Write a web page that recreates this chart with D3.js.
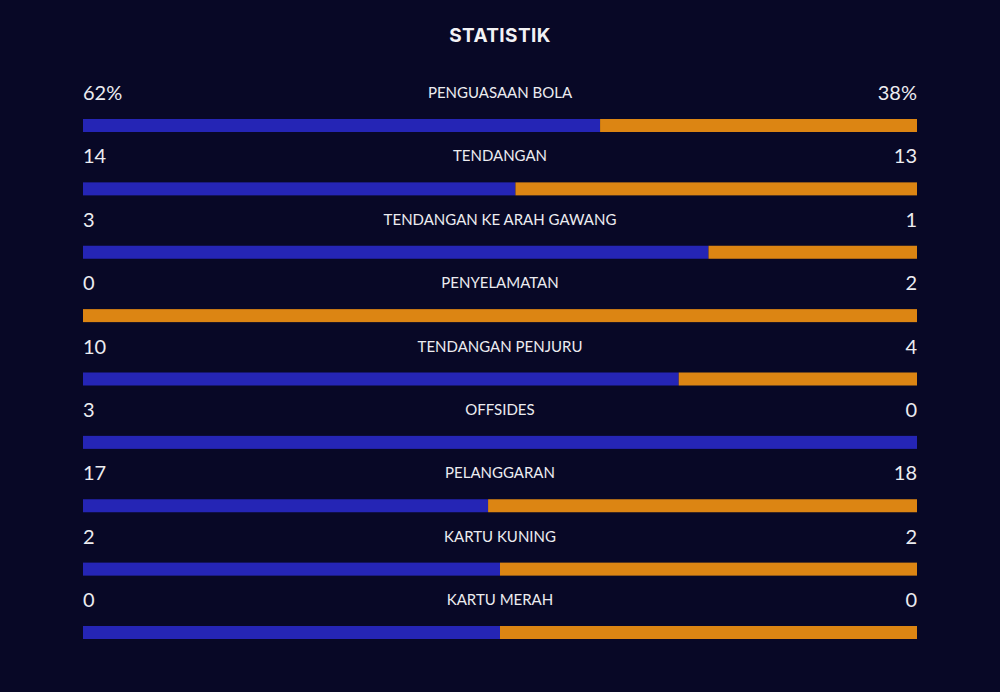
<!DOCTYPE html>
<html>
<head>
<meta charset="utf-8">
<script src="https://cdn.jsdelivr.net/npm/d3@7"></script>
<style>
  html, body { margin: 0; padding: 0; background: #080826; }
  svg { display: block; }
</style>
</head>
<body>
<svg></svg>
<script>
const categories = ['PENGUASAAN BOLA', 'TENDANGAN', 'TENDANGAN KE ARAH GAWANG', 'PENYELAMATAN',
  'TENDANGAN PENJURU', 'OFFSIDES', 'PELANGGARAN', 'KARTU KUNING', 'KARTU MERAH']
const home = [62, 14, 3, 0, 10, 3, 17, 2, 0]
const away = [38, 13, 1, 2, 4, 0, 18, 2, 0]
const suffix = ['%', '', '', '', '', '', '', '', '']

const width = 1000
const height = 692
const pd = { left: 83, right: 83 }
const barH = 13

const svg = d3.select('svg')
  .attr('width', width)
  .attr('height', height)

svg.append('text')
  .attr('x', width / 2)
  .attr('y', 42)
  .attr('text-anchor', 'middle')
  .attr('fill', '#f2f2f5')
  .attr('font-family', 'Inter, "Open Sans", sans-serif')
  .attr('font-weight', 700)
  .attr('font-size', 19)
  .attr('letter-spacing', 0.4)
  .text('STATISTIK')

const x = d3.scaleLinear().domain([0, 1]).range([pd.left, width - pd.right])
const y = d3.scaleLinear().domain([0, categories.length - 1]).range([119, 626])

const rows = categories.map((c, i) => {
  const tot = home[i] + away[i]
  return { c, i, h: home[i], a: away[i], f: tot === 0 ? 0.5 : home[i] / tot, s: suffix[i] }
})

const g = svg.selectAll('g.row')
  .data(rows)
  .enter()
  .append('g')
  .attr('class', 'row')
  .attr('transform', d => `translate(0, ${y(d.i)})`)

g.append('rect')
  .attr('x', x(0))
  .attr('y', 0)
  .attr('width', d => x(d.f) - x(0))
  .attr('height', barH)
  .attr('fill', '#2525b5')

g.append('rect')
  .attr('x', d => x(d.f))
  .attr('y', 0)
  .attr('width', d => x(1) - x(d.f))
  .attr('height', barH)
  .attr('fill', '#dc8513')

const font = 'Lato, "Open Sans", sans-serif'

g.append('text')
  .attr('x', x(0))
  .attr('y', -19)
  .attr('fill', '#ececf0')
  .attr('font-family', font)
  .attr('font-size', 20)
  .text(d => d.h + d.s)

g.append('text')
  .attr('x', x(1))
  .attr('y', -19)
  .attr('text-anchor', 'end')
  .attr('fill', '#ececf0')
  .attr('font-family', font)
  .attr('font-size', 20)
  .text(d => d.a + d.s)

g.append('text')
  .attr('x', width / 2)
  .attr('y', -21)
  .attr('text-anchor', 'middle')
  .attr('fill', '#ececf0')
  .attr('font-family', font)
  .attr('font-size', 15)
  .text(d => d.c)
</script>
</body>
</html>
